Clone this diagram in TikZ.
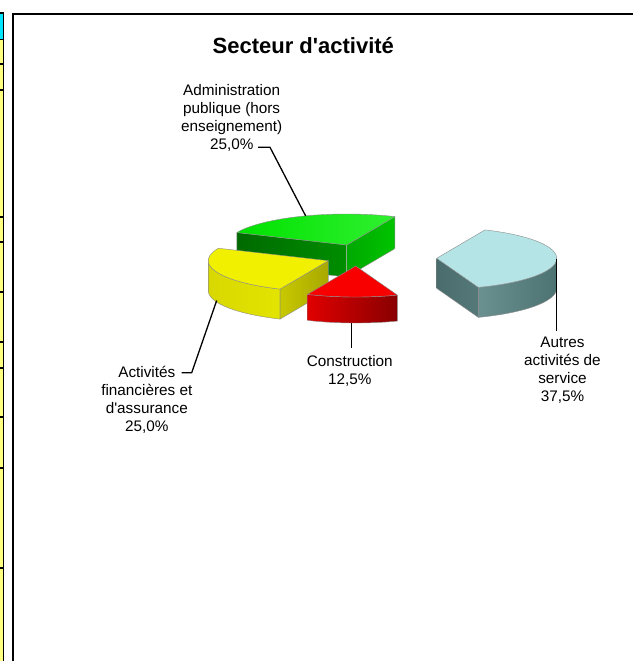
\documentclass[tikz,border=0pt]{standalone}
\usepackage{fontspec}
\setmainfont{Liberation Sans}
\definecolor{stripyellow}{HTML}{FFFF80}
\definecolor{stripcyan}{HTML}{00E6FF}
\definecolor{gTop}{HTML}{00E200}
\definecolor{gTopL}{HTML}{30F030}
\definecolor{gDarkL}{HTML}{006A00}
\definecolor{gDarkR}{HTML}{008E00}
\definecolor{gSideL}{HTML}{00A800}
\definecolor{gSideR}{HTML}{00C400}
\definecolor{yTop}{HTML}{F0F000}
\definecolor{yOutL}{HTML}{D8D800}
\definecolor{yOutM}{HTML}{F4F410}
\definecolor{yOutR}{HTML}{E4E400}
\definecolor{yRadL}{HTML}{C8C800}
\definecolor{yRadR}{HTML}{A8A800}
\definecolor{rTop}{HTML}{F80000}
\definecolor{rOutL}{HTML}{E00000}
\definecolor{rOutM}{HTML}{C80000}
\definecolor{rOutR}{HTML}{880000}
\definecolor{cTop}{HTML}{B4E4E6}
\definecolor{cRadL}{HTML}{4A6C6C}
\definecolor{cRadR}{HTML}{557878}
\definecolor{cOutL}{HTML}{6A9090}
\definecolor{cOutM}{HTML}{A2BEBE}
\definecolor{cOutR}{HTML}{4C7272}
\begin{document}
\begin{tikzpicture}[x=1pt,y=-1pt,
  lbl/.style={font=\fontsize{15.3}{18}\selectfont, align=center, inner sep=0pt},
  ttl/.style={font=\fontsize{22}{26}\selectfont\bfseries, inner sep=0pt},
  leader/.style={draw=black, line width=1.3pt},
  slab/.style={draw=black!45, line width=0.4pt, line join=round},
  gridline/.style={line width=1.4pt}]
\useasboundingbox (0,0) rectangle (632,661);
\fill[white] (0,0) rectangle (632,661);
\def\A{120}\def\B{31}

% spreadsheet strip at the left edge
\fill[stripyellow] (0,13) rectangle (2.6,661);
\fill[stripcyan] (0,13) rectangle (2.6,39.5);
\draw[gridline] (3.3,13) -- (3.3,661);
\foreach \yy in {13,39.5,64,90,217,242,292,342,368,417,468,568}
  \draw[gridline] (0,\yy) -- (4,\yy);

% chart frame
\draw[line width=2.4pt] (13.2,670) -- (13.2,14) -- (640,14);

% title
\node[ttl, anchor=base] (title) at (303.3,54) {Secteur d\textquotesingle activit\'e};

% ---- green slice (Administration publique) ----
\def\cx{346.7}\def\cy{245}\def\h{32}
\path[slab, left color=gDarkL, right color=gDarkR]
  (\cx,\cy) -- ({\cx+\A*cos(156.3)},{\cy-\B*sin(156.3)}) -- ++(0,\h) -- (\cx,\cy+\h) -- cycle;
\path[slab, left color=gSideL, right color=gSideR]
  (\cx,\cy) -- ({\cx+\A*cos(66.3)},{\cy-\B*sin(66.3)}) -- ++(0,\h) -- (\cx,\cy+\h) -- cycle;
\path[slab, left color=gTop, right color=gTopL]
  (\cx,\cy) -- plot[domain=66.3:156.3,samples=40] ({\cx+\A*cos(\x)},{\cy-\B*sin(\x)}) -- cycle;

% ---- cyan slice (Autres activites de service) ----
\def\cx{436.7}\def\cy{258.3}\def\h{30}
\path[slab, left color=cRadL, right color=cRadR]
  (\cx,\cy) -- ({\cx+\A*cos(-69.7)},{\cy-\B*sin(-69.7)}) -- ++(0,\h) -- (\cx,\cy+\h) -- cycle;
\path[slab, left color=cOutL, middle color=cOutM, right color=cOutR]
  plot[domain=-69.7:0,samples=30] ({\cx+\A*cos(\x)},{\cy-\B*sin(\x)})
  -- plot[domain=0:-69.7,samples=30] ({\cx+\A*cos(\x)},{\cy-\B*sin(\x)+\h}) -- cycle;
\path[slab, fill=cTop]
  (\cx,\cy) -- plot[domain=-69.7:66.3,samples=60] ({\cx+\A*cos(\x)},{\cy-\B*sin(\x)}) -- cycle;

% ---- yellow slice (Activites financieres) ----
\def\cx{328.3}\def\cy{260.7}\def\h{30}
\path[slab, left color=yOutL, middle color=yOutM, right color=yOutR]
  plot[domain=180:246.3,samples=30] ({\cx+\A*cos(\x)},{\cy-\B*sin(\x)})
  -- plot[domain=246.3:180,samples=30] ({\cx+\A*cos(\x)},{\cy-\B*sin(\x)+\h}) -- cycle;
\path[slab, left color=yRadL, right color=yRadR]
  ({\cx+\A*cos(246.3)},{\cy-\B*sin(246.3)}) -- (\cx,\cy) -- (\cx,\cy+\h)
  -- ({\cx+\A*cos(246.3)},{\cy-\B*sin(246.3)+\h}) -- cycle;
\path[slab, fill=yTop]
  (\cx,\cy) -- plot[domain=156.3:246.3,samples=40] ({\cx+\A*cos(\x)},{\cy-\B*sin(\x)}) -- cycle;

% ---- red slice (Construction) ----
\def\cx{355.7}\def\cy{266}\def\h{26}
\path[slab, left color=rOutL, middle color=rOutM, right color=rOutR]
  plot[domain=246.3:290.3,samples=30] ({\cx+\A*cos(\x)},{\cy-\B*sin(\x)})
  -- plot[domain=290.3:246.3,samples=30] ({\cx+\A*cos(\x)},{\cy-\B*sin(\x)+\h}) -- cycle;
\path[slab, fill=rTop]
  (\cx,\cy) -- plot[domain=246.3:290.3,samples=30] ({\cx+\A*cos(\x)},{\cy-\B*sin(\x)}) -- cycle;

% ---- labels ----
\node[lbl] (adm) at (231.7,117.5) {Administration\\publique (hors\\enseignement)\\25,0\%};
\node[lbl] (fin) at (146.8,399.5) {Activit\'es\\financi\`eres et\\d\textquotesingle assurance\\25,0\%};
\node[lbl] (cons) at (349.8,371) {Construction\\12,5\%};
\node[lbl] (aut) at (562.5,370.5) {Autres\\activit\'es de\\service\\37,5\%};

% ---- leader lines ----
\coordinate (admA) at (258,147.3);
\coordinate (admB) at (270,147.3);
\coordinate (admC) at (305.7,216);
\coordinate (finA) at (181.7,372.7);
\coordinate (finB) at (191.7,372.7);
\coordinate (finC) at (216.7,300.5);
\coordinate (consA) at (351.7,323);
\coordinate (consB) at (351.7,348);
\coordinate (autA) at (556.7,259);
\coordinate (autB) at (556.7,331);
\draw[leader] (admA) -- (admB) -- (admC);
\draw[leader] (finA) -- (finB) -- (finC);
\draw[leader] (consA) -- (consB);
\draw[leader] (autA) -- (autB);
\end{tikzpicture}
\end{document}
